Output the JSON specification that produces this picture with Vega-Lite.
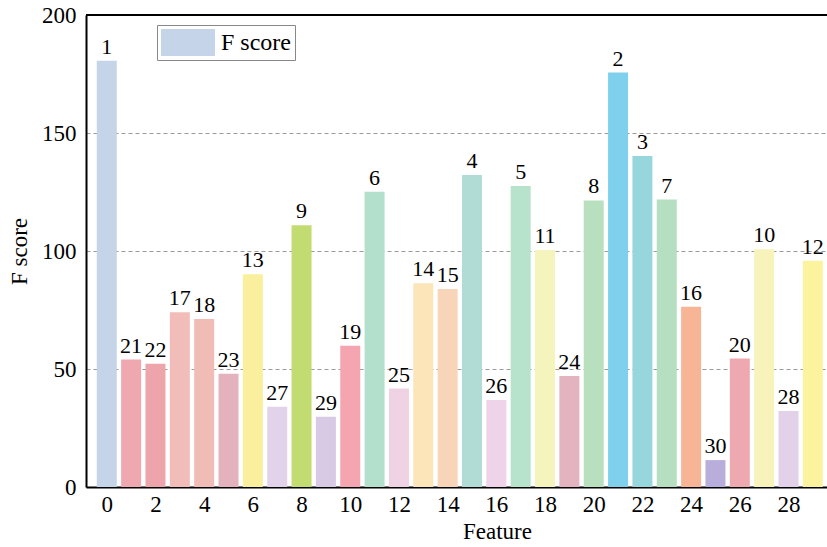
{
  "$schema": "https://vega.github.io/schema/vega-lite/v6.json",
  "width": 741,
  "height": 472,
  "autosize": {"type": "none"},
  "padding": {"left": 86, "top": 15, "right": 0, "bottom": 60},
  "config": {
    "view": {"stroke": null},
    "font": "Liberation Serif"
  },
  "data": {
    "values": [
      {"feature": 0, "score": 180.6, "rank": "1", "color": "#c5d4e8"},
      {"feature": 1, "score": 54.0, "rank": "21", "color": "#f0a8b0"},
      {"feature": 2, "score": 52.2, "rank": "22", "color": "#eea4ab"},
      {"feature": 3, "score": 74.0, "rank": "17", "color": "#f2bcb8"},
      {"feature": 4, "score": 71.2, "rank": "18", "color": "#f0bcb5"},
      {"feature": 5, "score": 48.0, "rank": "23", "color": "#e3b2bd"},
      {"feature": 6, "score": 90.1, "rank": "13", "color": "#f9ef9c"},
      {"feature": 7, "score": 34.0, "rank": "27", "color": "#e2d3ea"},
      {"feature": 8, "score": 110.9, "rank": "9", "color": "#c2dc72"},
      {"feature": 9, "score": 29.8, "rank": "29", "color": "#d8c9e5"},
      {"feature": 10, "score": 59.9, "rank": "19", "color": "#f5a5b0"},
      {"feature": 11, "score": 125.1, "rank": "6", "color": "#b3e0cc"},
      {"feature": 12, "score": 41.7, "rank": "25", "color": "#efd2e3"},
      {"feature": 13, "score": 86.3, "rank": "14", "color": "#fbe5b9"},
      {"feature": 14, "score": 83.9, "rank": "15", "color": "#f8d5b9"},
      {"feature": 15, "score": 132.2, "rank": "4", "color": "#b1dcd6"},
      {"feature": 16, "score": 36.9, "rank": "26", "color": "#efd3e8"},
      {"feature": 17, "score": 127.5, "rank": "5", "color": "#b7e2cc"},
      {"feature": 18, "score": 100.4, "rank": "11", "color": "#f5f4bc"},
      {"feature": 19, "score": 47.0, "rank": "24", "color": "#e3b4c0"},
      {"feature": 20, "score": 121.4, "rank": "8", "color": "#b8e0bf"},
      {"feature": 21, "score": 175.6, "rank": "2", "color": "#7fd0ec"},
      {"feature": 22, "score": 140.3, "rank": "3", "color": "#98d6dd"},
      {"feature": 23, "score": 121.8, "rank": "7", "color": "#b5dfc0"},
      {"feature": 24, "score": 76.4, "rank": "16", "color": "#f7b596"},
      {"feature": 25, "score": 11.4, "rank": "30", "color": "#b9addb"},
      {"feature": 26, "score": 54.4, "rank": "20", "color": "#eea8b0"},
      {"feature": 27, "score": 100.7, "rank": "10", "color": "#f7f3bb"},
      {"feature": 28, "score": 32.2, "rank": "28", "color": "#e2d1e9"},
      {"feature": 29, "score": 95.9, "rank": "12", "color": "#fbf39e"}
    ]
  },
  "encoding": {
    "x": {
      "field": "feature",
      "type": "quantitative",
      "scale": {"domain": [-0.648, 29.376], "nice": false, "zero": false},
      "axis": {
        "values": [0, 2, 4, 6, 8, 10, 12, 14, 16, 18, 20, 22, 24, 26, 28],
        "grid": false,
        "ticks": false,
        "labelFont": "Liberation Serif",
        "labelFontSize": 23,
        "labelColor": "black",
        "labelPadding": 6,
        "labelFlush": false,
        "domainColor": "black",
        "domainWidth": 2,
        "title": "Feature",
        "titleFont": "Liberation Serif",
        "titleFontSize": 23,
        "titleColor": "black",
        "titleFontWeight": "normal",
        "titlePadding": 4,
        "titleX": 411
      }
    },
    "y": {
      "field": "score",
      "type": "quantitative",
      "scale": {"domain": [0, 200], "nice": false},
      "axis": {
        "values": [0, 50, 100, 150, 200],
        "grid": true,
        "gridDash": [4, 3],
        "gridColor": "#9a9a9a",
        "gridWidth": 1,
        "ticks": false,
        "labelFont": "Liberation Serif",
        "labelFontSize": 23,
        "labelColor": "black",
        "labelPadding": 10,
        "domainColor": "black",
        "domainWidth": 2,
        "title": "F score",
        "titleFont": "Liberation Serif",
        "titleFontSize": 23,
        "titleColor": "black",
        "titleFontWeight": "normal",
        "titlePadding": 10
      }
    }
  },
  "layer": [
    {
      "mark": {"type": "bar", "width": 20, "clip": true},
      "encoding": {
        "color": {"field": "color", "type": "nominal", "scale": null}
      }
    },
    {
      "transform": [{"filter": "false"}],
      "mark": {"type": "bar", "width": 20, "clip": true},
      "encoding": {
        "fill": {
          "datum": "F score",
          "scale": {"range": ["#c5d4e8"]},
          "legend": {
            "title": null,
            "orient": "none",
            "legendX": 71,
            "legendY": 10,
            "symbolType": "M-1,-1L3,-1L3,1L-1,1Z",
            "symbolSize": 729,
            "symbolStrokeWidth": 0,
            "symbolOpacity": 1,
            "labelOffset": 33,
            "labelFont": "Liberation Serif",
            "labelFontSize": 24,
            "labelColor": "black",
            "strokeColor": "#888888",
            "padding": 4,
            "fillColor": "white"
          }
        }
      }
    },
    {
      "mark": {"type": "text", "baseline": "bottom", "dy": -2, "font": "Liberation Serif", "fontSize": 22, "color": "black", "clip": true},
      "encoding": {"text": {"field": "rank"}}
    },
    {
      "mark": {"type": "rule", "color": "black", "strokeWidth": 2},
      "encoding": {"y": {"datum": 200}, "x": null}
    }
  ]
}
